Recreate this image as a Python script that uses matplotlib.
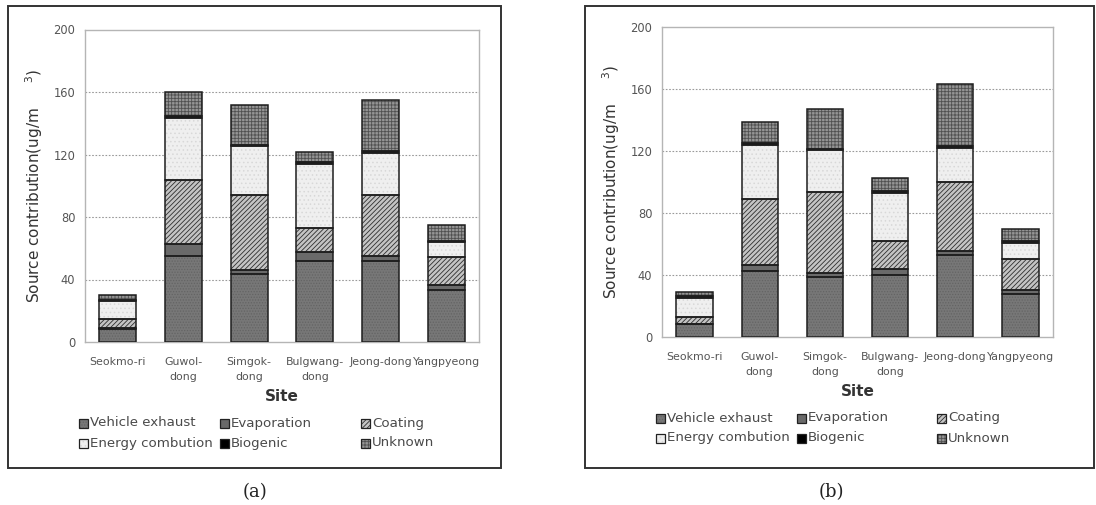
import matplotlib
matplotlib.use("Agg")
import matplotlib.pyplot as plt
from matplotlib.patches import Rectangle
import numpy as np

sites = ["Seokmo-ri", "Guwol-\ndong", "Simgok-\ndong", "Bulgwang-\ndong", "Jeong-dong", "Yangpyeong"]
sources = ["Vehicle exhaust", "Evaporation", "Coating", "Energy combution", "Biogenic", "Unknown"]

# panel (a)
a_vehicle = [8.5, 55.0, 43.5, 52.0, 52.0, 33.0]
a_evap = [0.5, 8.0, 2.5, 5.5, 3.0, 3.5]
a_coating = [5.5, 41.0, 48.0, 15.5, 39.0, 18.0]
a_energy = [12.0, 39.5, 31.5, 41.0, 27.0, 9.5]
a_biogenic = [0.5, 1.0, 0.5, 1.0, 1.0, 0.5]
a_unknown = [3.0, 15.5, 26.0, 6.5, 33.0, 10.5]

# panel (b)
b_vehicle = [8.0, 42.5, 38.5, 40.0, 53.0, 27.5]
b_evap = [0.5, 4.0, 2.5, 4.0, 2.5, 3.0]
b_coating = [4.0, 42.5, 52.5, 18.0, 44.5, 19.5]
b_energy = [12.5, 35.0, 27.0, 31.0, 22.0, 10.5]
b_biogenic = [1.0, 1.0, 1.0, 1.5, 1.0, 1.5]
b_unknown = [2.8, 14.0, 26.0, 8.0, 40.5, 7.5]

yticks = [0, 40, 80, 120, 160, 200]

styles = {
    "Vehicle exhaust": dict(fc="#777777", hc="#646464", hatch="......"),
    "Evaporation": dict(fc="#6a6a6a", hc="#6a6a6a", hatch=None),
    "Coating": dict(fc="#c4c4c4", hc="#2e2e2e", hatch="///////"),
    "Energy combution": dict(fc="#efefef", hc="#d8d8d8", hatch="...."),
    "Biogenic": dict(fc="#000000", hc="#000000", hatch=None),
    "Unknown": dict(fc="#959595", hc="#505050", hatch="+++++"),
}

plt.rcParams["hatch.linewidth"] = 0.6
plt.rcParams["font.family"] = ["DejaVu Sans"]

fig = plt.figure(figsize=(10.96, 5.05), dpi=100)
W, H = 1096.0, 505.0


def fx(px):
    return px / W


def fy(py):
    return 1 - py / H


def draw_panel(ax_rect, data, box, leg_x, leg_y, cap_xy, cap):
    bx0, by0, bx1, by1 = box
    fig.patches.append(Rectangle((fx(bx0), fy(by1)), fx(bx1 - bx0), (by1 - by0) / H,
                                 transform=fig.transFigure, fill=False,
                                 edgecolor="#333333", linewidth=1.4, zorder=0))
    ax = fig.add_axes(ax_rect)
    x = np.arange(len(sites))
    bottom = np.zeros(len(sites))
    for name, vals in zip(sources, data):
        st = styles[name]
        vals = np.array(vals)
        ax.bar(x, vals, 0.56, bottom=bottom, color=st["fc"], edgecolor=st["hc"],
               hatch=st["hatch"], linewidth=0, zorder=2)
        ax.bar(x, vals, 0.56, bottom=bottom, fill=False, edgecolor="#1e1e1e",
               linewidth=1.1, zorder=3)
        bottom += vals
    ax.set_xlim(-0.5, len(sites) - 0.5)
    ax.set_ylim(0, 200)
    ax.set_yticks(yticks)
    ax.set_xticks(x)
    ax.set_xticklabels(sites, fontsize=7.9, color="#555555", linespacing=1.6)
    ax.tick_params(axis="both", length=0, labelsize=8.3, labelcolor="#555555")
    ax.tick_params(axis="x", labelsize=7.9, pad=11)
    ax.tick_params(axis="y", pad=7)
    for v in yticks[1:-1]:
        ax.axhline(v, color="#9a9a9a", linestyle=(0, (1.5, 1.5)), linewidth=0.8, zorder=1)
    for s in ax.spines.values():
        s.set_color("#b5b5b5")
        s.set_linewidth(1.0)
    ax.set_xlabel("Site", fontsize=11, color="#333333", fontweight="bold", labelpad=5)
    ax.set_ylabel("Source contribution(ug/m$\\ \\ \\ \\ \\ ^{3}$)", fontsize=11,
                  color="#333333", labelpad=6)
    for i, name in enumerate(sources):
        row = 0 if i < 3 else 1
        col = i % 3
        st = styles[name]
        px = leg_x[col]
        py = leg_y[row]
        fig.patches.append(Rectangle((fx(px), fy(py + 4.5)), 9 / W, 9 / H,
                                     transform=fig.transFigure, facecolor=st["fc"],
                                     edgecolor=st["hc"], hatch=st["hatch"], linewidth=0))
        fig.patches.append(Rectangle((fx(px), fy(py + 4.5)), 9 / W, 9 / H,
                                     transform=fig.transFigure, fill=False,
                                     edgecolor="#222222", linewidth=0.9))
        fig.text(fx(px + 11), fy(py), name, fontsize=9.6, color="#4a4a4a",
                 va="center", ha="left")
    fig.text(fx(cap_xy[0]), fy(cap_xy[1]), cap, fontsize=13, color="#222222",
             ha="center", va="center", family="DejaVu Serif")
    return ax


data_a = [a_vehicle, a_evap, a_coating, a_energy, a_biogenic, a_unknown]
data_b = [b_vehicle, b_evap, b_coating, b_energy, b_biogenic, b_unknown]

draw_panel([fx(85), fy(342), fx(479 - 85), (342 - 29.5) / H], data_a,
           (8, 6, 501, 468), (79, 220, 361), (423, 443), (255, 492), "(a)")
draw_panel([fx(662), fy(336.7), fx(1053 - 662), (336.7 - 27.3) / H], data_b,
           (585, 6, 1094, 468), (656, 797, 937), (418, 438), (831, 492), "(b)")

fig.savefig("out.png", dpi=100)
